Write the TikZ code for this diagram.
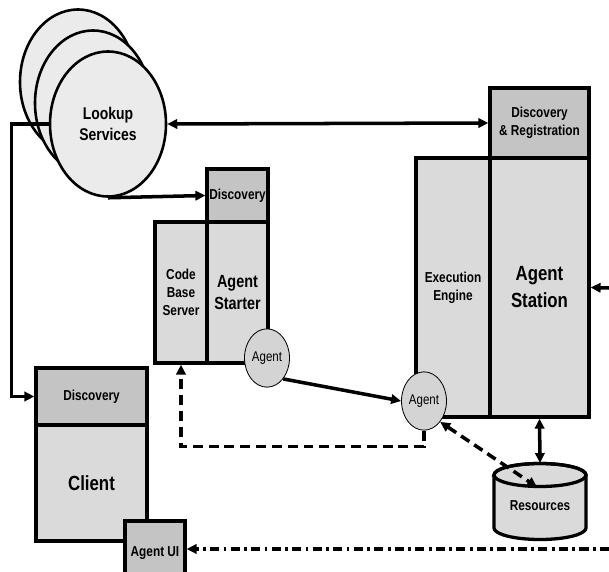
\documentclass[tikz,border=0pt]{standalone}
\usepackage{fontspec}
\setmainfont{Liberation Sans}[FakeStretch=0.82]
\usetikzlibrary{arrows.meta,shapes.geometric}
\definecolor{boxgray}{HTML}{DADADA}
\definecolor{discgray}{HTML}{C4C4C4}
\definecolor{lookgray}{HTML}{EBEBEB}
\definecolor{agentgray}{HTML}{D4D4D4}
\begin{document}
\begin{tikzpicture}[x=0.03cm,y=-0.03cm,>={Triangle[length=8.5pt,width=8pt]},
    lbl/.style={font=\bfseries\fontsize{12.3}{15.5}\selectfont},
    big/.style={font=\bfseries\fontsize{17.5}{23}\selectfont},
    box/.style={draw,line width=2.8pt,fill=boxgray,inner sep=0pt,align=center,lbl},
    disc/.style={box,fill=discgray},
    lookup/.style={ellipse,draw,line width=2.2pt,fill=lookgray,minimum width=3.48cm,minimum height=4.35cm},
    agent/.style={ellipse,draw,line width=0.7pt,fill=agentgray,minimum width=1.35cm,minimum height=1.75cm,inner sep=0pt,font=\fontsize{12}{13}\selectfont},
    link/.style={line width=3pt},
    dashlink/.style={link,dash pattern=on 8.5pt off 5pt},
    dotlink/.style={link,dash pattern=on 8pt off 3.5pt on 2.5pt off 3.5pt}]
    \useasboundingbox (0,0) rectangle (609,572);
    \clip (0,0) rectangle (609,572);

    \node[lookup] (look3) at (78,82) {};
    \node[lookup] (look2) at (93,103) {};
    \node[lookup,align=center,font=\bfseries\fontsize{14.5}{18}\selectfont] (look1) at (108,124) {Lookup\\Services};

    \node[disc,minimum width=2.97cm,minimum height=2.1cm] (dreg) at (539.5,123) {Discovery\\\& Registration};
    \node[box,minimum width=2.22cm,minimum height=7.77cm] (exec) at (453,287.5) {Execution\\Engine};
    \node[box,big,minimum width=2.97cm,minimum height=7.77cm] (station) at (539.5,287.5) {Agent\\Station};

    \node[disc,minimum width=1.83cm,minimum height=1.59cm] (sdisc) at (237.5,195.5) {Discovery};
    \node[box,minimum width=1.56cm,minimum height=4.23cm] (codebase) at (181,292.5) {Code\\Base\\Server};
    \node[box,font=\bfseries\fontsize{15}{18}\selectfont,minimum width=1.83cm,minimum height=4.23cm] (starter) at (237.5,292.5) {Agent\\Starter};

    \node[disc,minimum width=3.33cm,minimum height=1.71cm] (cdisc) at (91.5,396.5) {Discovery};
    \node[box,big,minimum width=3.33cm,minimum height=3.48cm] (client) at (91.5,483) {Client};
    \node[disc,minimum width=1.8cm,minimum height=1.92cm] (agentui) at (155,553) {Agent UI};

    \node[agent] (agent1) at (267,358) {Agent};
    \node[agent] (agent2) at (424,401) {Agent};

    \draw[line width=2.8pt,fill=boxgray] (494,475) -- (494,528) arc[start angle=180,end angle=360,x radius=1.38cm,y radius=0.345cm] -- (586,475) arc[start angle=0,end angle=180,x radius=1.38cm,y radius=0.345cm] -- cycle;
    \draw[line width=2.8pt] (540,475) ellipse[x radius=1.38cm,y radius=0.345cm];
    \node[lbl] (res) at (540,506) {Resources};
    \coordinate (restop) at (540,463);
    \coordinate (resin) at (537,487);
    \coordinate (sin) at (609,288);
    \coordinate (uiin) at (609,549);

    \draw[link,<->] (look1.east) -- (dreg.west);
    \draw[link,->] (look1.west) -- ++(-37,0) |- (cdisc.west);
    \draw[link,->] (look1.south) -- (sdisc.west);
    \draw[link,->] (agent1.south east) -- (agent2.west);
    \draw[dashlink,->] (agent2.south) -- ++(0,16) -| (codebase.south);
    \draw[dashlink,<->] (agent2.south east) -- (resin);
    \draw[link,<->] (station.south) -- (restop);
    \draw[link,->] (sin) -- (station.east);
    \draw[dotlink,->] (uiin) -- (uiin -| agentui.east);
\end{tikzpicture}
\end{document}
